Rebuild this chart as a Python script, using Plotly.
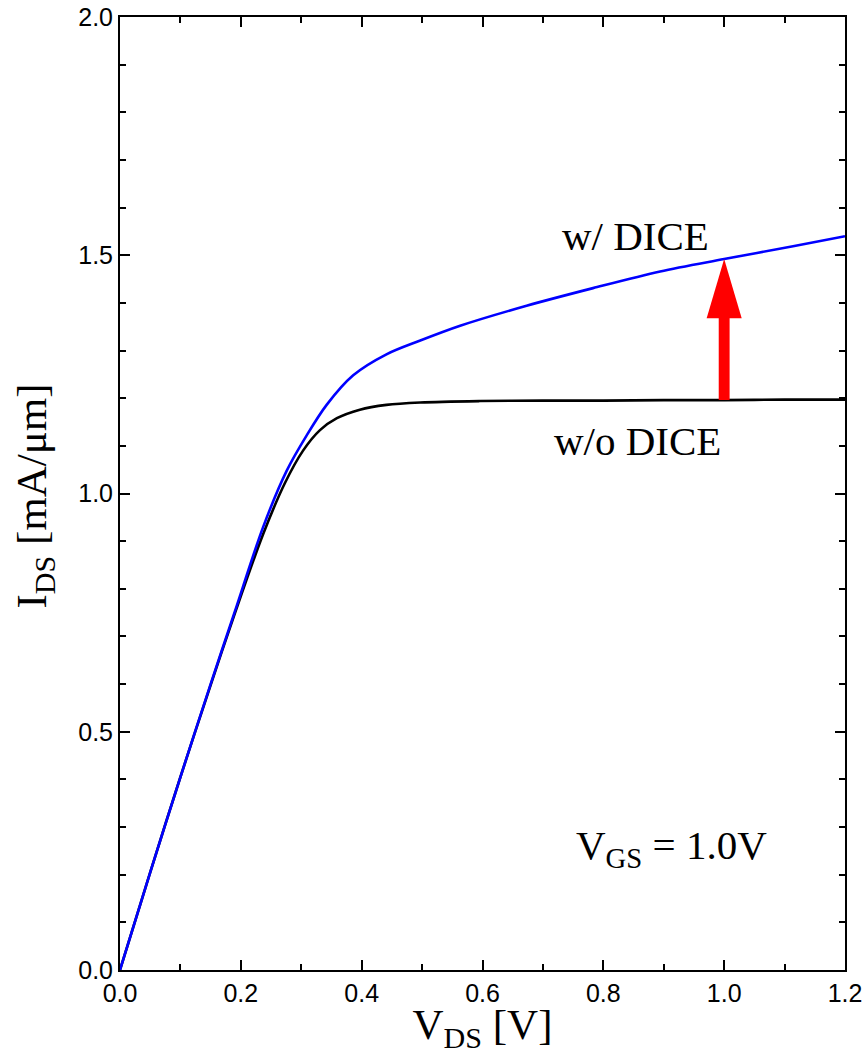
import plotly.graph_objects as go

# Drain current vs drain voltage at V_GS = 1.0 V
vds_wo = [0.0, 0.05, 0.1, 0.15, 0.19, 0.237, 0.273, 0.303, 0.331, 0.359, 0.397,
          0.441, 0.497, 0.596, 0.7, 0.8, 0.9, 1.0, 1.1, 1.2]
ids_wo = [0.0, 0.205, 0.405, 0.598, 0.748, 0.915, 1.022, 1.09, 1.133, 1.158, 1.176,
          1.186, 1.191, 1.194, 1.195, 1.195, 1.196, 1.196, 1.197, 1.197]

vds_w = [0.0, 0.05, 0.1, 0.15, 0.19, 0.237, 0.276, 0.309, 0.342, 0.386, 0.441,
         0.497, 0.563, 0.673, 0.783, 0.894, 1.0, 1.114, 1.2]
ids_w = [0.0, 0.205, 0.405, 0.6, 0.752, 0.93, 1.048, 1.122, 1.186, 1.248, 1.292,
         1.321, 1.352, 1.394, 1.431, 1.466, 1.492, 1.519, 1.54]

x_ticks = [0.0, 0.2, 0.4, 0.6, 0.8, 1.0, 1.2]
x_tick_labels = ["0.0", "0.2", "0.4", "0.6", "0.8", "1.0", "1.2"]
y_ticks = [0.0, 0.5, 1.0, 1.5, 2.0]
y_tick_labels = ["0.0", "0.5", "1.0", "1.5", "2.0"]

arrow_v = 1.0
arrow_from = ids_wo[vds_wo.index(arrow_v)]
arrow_to = ids_w[vds_w.index(arrow_v)]

fig = go.Figure()
fig.add_trace(go.Scatter(x=vds_wo, y=ids_wo, mode="lines",
                         line=dict(color="black", width=2.6, shape="spline", smoothing=0.9),
                         showlegend=False))
fig.add_trace(go.Scatter(x=vds_w, y=ids_w, mode="lines",
                         line=dict(color="#0000ff", width=2.6, shape="spline", smoothing=0.9),
                         showlegend=False))

# Red arrow from the w/o curve up to the w/ curve
shaft_half = 0.009
head_half = 0.029
head_len = 0.124
base = arrow_to - head_len
fig.add_shape(type="rect", xref="x", yref="y",
              x0=arrow_v - shaft_half, x1=arrow_v + shaft_half,
              y0=arrow_from, y1=base + 0.005,
              fillcolor="#ff0000", line=dict(width=0), layer="above")
fig.add_shape(type="path", xref="x", yref="y",
              path=f"M {arrow_v - head_half} {base} L {arrow_v + head_half} {base} L {arrow_v} {arrow_to} Z",
              fillcolor="#ff0000", line=dict(width=0), layer="above")

serif = "Liberation Serif, Times New Roman, serif"
sans = "Liberation Sans, Arial, sans-serif"

fig.add_annotation(x=0.854, y=1.541, text="w/ DICE", showarrow=False,
                   font=dict(family=serif, size=41, color="black"))
fig.add_annotation(x=0.856, y=1.11, text="w/o DICE", showarrow=False,
                   font=dict(family=serif, size=41, color="black"))
fig.add_annotation(x=0.912, y=0.255, text="V<sub>GS</sub> = 1.0V", showarrow=False,
                   font=dict(family=serif, size=41, color="black"))

# y-axis title, placed in paper coordinates left of the tick labels
fig.add_annotation(xref="paper", yref="paper", x=-0.117, y=0.497,
                   xanchor="center", yanchor="middle", textangle=-90,
                   text="I<sub>DS</sub> [mA/μm]", showarrow=False,
                   font=dict(family=serif, size=43, color="black"))

axis_common = dict(
    showline=True, linecolor="black", linewidth=2, mirror="ticks",
    ticks="inside", ticklen=10, tickwidth=1.5, tickcolor="black",
    showgrid=False, zeroline=False, automargin=False,
    tickfont=dict(family=sans, size=25, color="black"),
)

fig.update_xaxes(range=[0, 1.2], tickvals=x_ticks, ticktext=x_tick_labels,
                 minor=dict(ticks="inside", ticklen=6, tickwidth=1.5, dtick=0.1,
                            tickcolor="black", showgrid=False),
                 title=dict(text="V<sub>DS</sub> [V]", font=dict(family=serif, size=43, color="black"),
                            standoff=5),
                 **axis_common)
fig.update_yaxes(range=[0, 2.0], tickvals=y_ticks, ticktext=y_tick_labels,
                 minor=dict(ticks="inside", ticklen=6, tickwidth=1.5, dtick=0.1,
                            tickcolor="black", showgrid=False),
                 **axis_common)

fig.update_layout(width=864, height=1055,
                  margin=dict(l=120, r=19, t=17, b=85, pad=0),
                  plot_bgcolor="white", paper_bgcolor="white")

fig.write_html("out.html")
